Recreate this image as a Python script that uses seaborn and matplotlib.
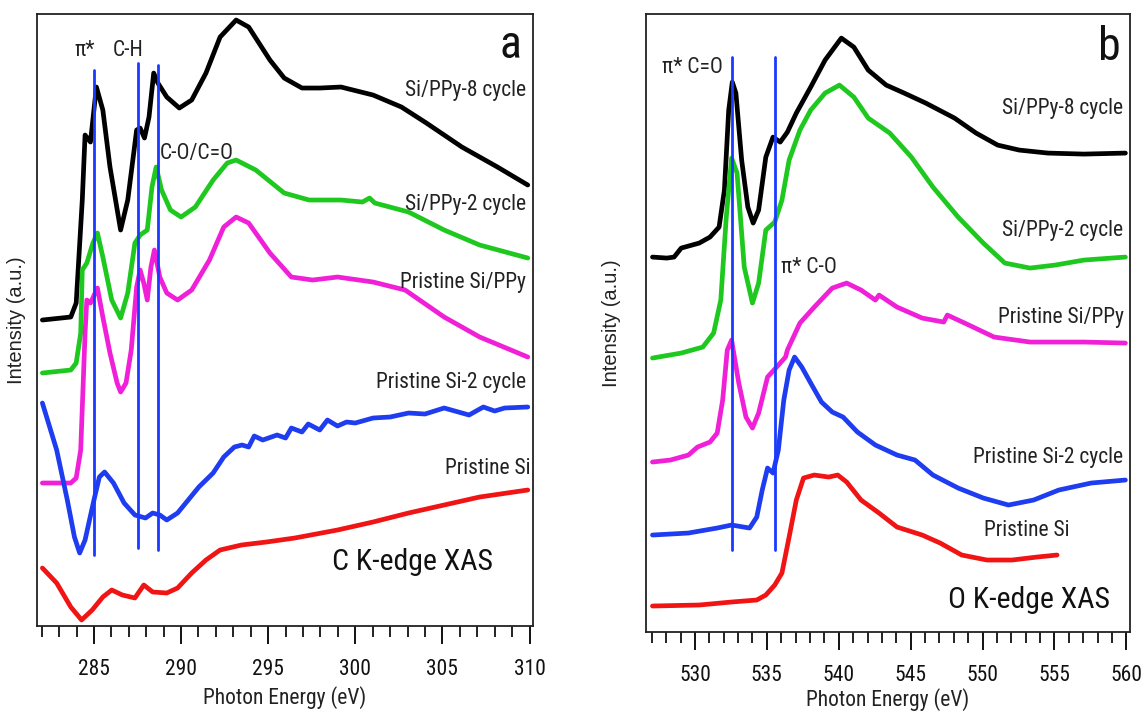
import numpy as np
import pandas as pd
import matplotlib
matplotlib.use("Agg")
import matplotlib.pyplot as plt
from matplotlib import font_manager as fm
import seaborn as sns

# ---------------- Panel a : C K-edge ----------------
a_black_x = [282.04, 283.67, 283.98, 284.33, 284.49, 284.80, 285.14, 285.51, 285.92, 286.53, 286.94, 287.45, 287.65,
             287.90, 288.16, 288.43, 288.67, 289.18, 289.90, 290.61, 291.43, 292.24, 293.16, 293.88, 295.10, 295.92,
             296.94, 297.96, 299.18, 301.02, 302.65, 304.08, 306.12, 308.16, 309.90]
a_black_y = [3.30, 3.33, 3.47, 4.50, 5.15, 5.08, 5.63, 5.40, 4.83, 4.20, 4.50, 5.20, 5.22,
             5.12, 5.33, 5.77, 5.67, 5.53, 5.42, 5.50, 5.77, 6.13, 6.30, 6.23, 5.90, 5.72,
             5.62, 5.62, 5.63, 5.55, 5.43, 5.27, 5.03, 4.83, 4.65]

a_green_x = [282.04, 283.67, 283.98, 284.24, 284.33, 284.59, 284.94, 285.20, 285.51, 286.02, 286.53, 286.94, 287.35,
             287.65, 288.06, 288.33, 288.57, 288.88, 289.39, 290.00, 290.82, 291.84, 292.65, 293.16, 294.29, 295.92,
             297.35, 299.18, 300.41, 300.82, 301.12, 303.06, 305.10, 307.14, 309.90]
a_green_y = [2.77, 2.80, 2.87, 3.17, 3.80, 3.87, 4.07, 4.17, 3.93, 3.50, 3.32, 3.57, 4.07,
             4.15, 4.20, 4.63, 4.83, 4.60, 4.40, 4.33, 4.43, 4.70, 4.87, 4.90, 4.80, 4.57,
             4.50, 4.50, 4.48, 4.52, 4.47, 4.38, 4.20, 4.05, 3.92]

a_magenta_x = [282.04, 283.67, 283.98, 284.24, 284.49, 284.59, 284.80, 285.20, 285.51, 285.92, 286.33, 286.53, 286.84,
               287.14, 287.45, 287.65, 287.86, 288.06, 288.27, 288.47, 288.78, 289.18, 289.80, 290.61, 291.63, 292.45,
               293.16, 293.88, 295.10, 296.33, 297.55, 298.98, 301.02, 302.86, 305.10, 307.14, 309.90]
a_magenta_y = [1.67, 1.67, 1.72, 2.00, 3.17, 3.50, 3.47, 3.62, 3.33, 2.97, 2.67, 2.58, 2.67,
               3.00, 3.63, 3.80, 3.67, 3.50, 3.83, 4.00, 3.73, 3.57, 3.50, 3.60, 3.90, 4.23,
               4.33, 4.27, 3.97, 3.73, 3.70, 3.73, 3.68, 3.60, 3.33, 3.13, 2.93]

a_blue_x = [282.04, 282.86, 283.47, 283.88, 284.18, 284.49, 285.00, 285.31, 285.61, 286.12, 286.73, 287.35, 287.96,
            288.37, 288.78, 289.18, 289.80, 290.41, 291.02, 291.84, 292.45, 293.06, 293.50, 293.88, 294.20, 294.69,
            295.51, 296.00, 296.33, 296.94, 297.30, 297.96, 298.40, 298.98, 299.50, 300.00, 301.02, 302.00,
            303.06, 304.00, 305.10, 306.53, 307.35, 308.00, 308.57, 309.90]
a_blue_y = [2.47, 2.00, 1.50, 1.13, 0.97, 1.10, 1.50, 1.73, 1.78, 1.67, 1.47, 1.35, 1.32,
            1.37, 1.35, 1.30, 1.37, 1.50, 1.63, 1.77, 1.93, 2.03, 2.05, 2.03, 2.14, 2.10,
            2.15, 2.12, 2.22, 2.18, 2.26, 2.20, 2.30, 2.24, 2.28, 2.27, 2.32, 2.33,
            2.37, 2.36, 2.42, 2.35, 2.43, 2.39, 2.42, 2.43]

a_red_x = [282.04, 282.86, 283.67, 284.29, 284.90, 285.51, 286.02, 286.63, 287.35, 287.86, 288.37, 289.18, 289.80,
           290.61, 291.43, 292.24, 293.47, 294.90, 296.53, 298.98, 301.02, 303.06, 305.10, 307.14, 309.90]
a_red_y = [0.82, 0.67, 0.43, 0.30, 0.40, 0.53, 0.60, 0.55, 0.52, 0.65, 0.58, 0.57, 0.62,
           0.77, 0.90, 1.00, 1.05, 1.08, 1.12, 1.20, 1.28, 1.37, 1.45, 1.53, 1.60]

a_series = ["Si/PPy-8 cycle", "Si/PPy-2 cycle", "Pristine Si/PPy", "Pristine Si-2 cycle", "Pristine Si"]
a_label_y = [5.60, 4.46, 3.68, 2.68, 1.82]
a_lines_x = [285.0, 287.51, 288.67]
a_lines_top = [5.80, 5.87, 5.85]
a_lines_bottom = [0.95, 1.02, 1.00]
a_peak_labels = ["π*", "C-H", "C-O/C=O"]
a_peak_x = [284.45, 286.94, 290.9]
a_peak_y = [6.00, 6.00, 4.97]

# ---------------- Panel b : O K-edge ----------------
b_black_x = [527.05, 528.05, 528.55, 529.05, 530.30, 531.05, 531.68, 532.05, 532.35, 532.60, 532.85, 533.25, 533.68,
             534.05, 534.43, 534.93, 535.43, 535.93, 536.43, 537.05, 538.05, 539.05, 540.18, 541.05, 542.05, 543.30,
             544.55, 546.05, 548.05, 549.55, 551.05, 552.55, 554.55, 557.05, 559.93]
b_black_y = [3.93, 3.92, 3.93, 4.02, 4.07, 4.13, 4.23, 4.60, 5.40, 5.68, 5.57, 4.90, 4.43,
             4.27, 4.40, 4.93, 5.13, 5.08, 5.18, 5.37, 5.63, 5.90, 6.12, 6.03, 5.80, 5.65,
             5.57, 5.47, 5.32, 5.17, 5.05, 5.00, 4.97, 4.96, 4.97]

b_green_x = [527.05, 529.05, 530.55, 531.30, 531.80, 532.18, 532.55, 532.93, 533.43, 534.00, 534.43, 534.93, 535.55,
             536.05, 536.55, 537.30, 538.05, 539.05, 540.05, 541.05, 542.05, 543.55, 545.05, 546.55, 548.30, 550.05,
             551.55, 553.30, 555.05, 557.05, 559.93]
b_green_y = [2.92, 2.97, 3.03, 3.17, 3.50, 4.33, 4.92, 4.77, 3.83, 3.47, 3.67, 4.20, 4.28,
             4.50, 4.90, 5.20, 5.40, 5.57, 5.65, 5.53, 5.32, 5.17, 4.93, 4.63, 4.33, 4.07,
             3.87, 3.82, 3.85, 3.90, 3.93]

b_magenta_x = [527.05, 528.30, 529.55, 530.18, 531.05, 531.55, 531.93, 532.25, 532.55, 533.05, 533.55, 534.00, 534.43,
               535.05, 535.68, 536.30, 536.43, 537.30, 538.30, 539.55, 540.55, 541.55, 542.55, 542.80, 544.05, 545.80,
               547.30, 547.55, 549.05, 550.80, 553.30, 557.05, 559.93]
b_magenta_y = [1.88, 1.90, 1.95, 2.03, 2.08, 2.17, 2.50, 3.00, 3.10, 2.67, 2.33, 2.22, 2.37,
               2.73, 2.83, 2.93, 3.00, 3.27, 3.43, 3.62, 3.67, 3.60, 3.50, 3.55, 3.43, 3.32,
               3.28, 3.35, 3.25, 3.13, 3.08, 3.08, 3.07]

b_blue_x = [527.05, 529.55, 531.55, 532.55, 533.80, 534.30, 534.68, 535.05, 535.43, 535.80, 536.18, 536.55, 536.93,
            537.43, 538.05, 538.80, 539.55, 540.30, 541.30, 542.55, 544.05, 545.30, 546.55, 548.30, 550.05, 551.80,
            553.55, 555.30, 557.55, 559.93]
b_blue_y = [1.15, 1.17, 1.22, 1.25, 1.22, 1.33, 1.60, 1.82, 1.77, 2.00, 2.50, 2.80, 2.93,
            2.83, 2.67, 2.48, 2.38, 2.33, 2.18, 2.05, 1.95, 1.90, 1.75, 1.62, 1.52, 1.45,
            1.50, 1.60, 1.67, 1.70]

b_red_x = [527.05, 530.30, 532.55, 534.30, 534.93, 535.55, 536.05, 536.55, 537.05, 537.55, 538.30, 539.30, 539.93,
           540.55, 541.55, 542.80, 544.05, 545.80, 547.05, 548.55, 550.30, 552.05, 553.80, 555.18]
b_red_y = [0.44, 0.45, 0.48, 0.50, 0.55, 0.65, 0.77, 1.13, 1.50, 1.72, 1.75, 1.73, 1.75,
           1.68, 1.50, 1.37, 1.23, 1.15, 1.07, 0.95, 0.90, 0.90, 0.93, 0.95]

b_series = ["Si/PPy-8 cycle", "Si/PPy-2 cycle", "Pristine Si/PPy", "Pristine Si-2 cycle", "Pristine Si"]
b_label_y = [5.42, 4.20, 3.33, 1.93, 1.20]
b_lines_x = [532.6, 535.55]
b_lines_top = [5.93, 5.93]
b_lines_bottom = [1.00, 1.00]
b_peak_labels = ["π* C=O", "π* C-O"]
b_peak_x = [529.8, 537.9]
b_peak_y = [5.83, 3.83]

colors = ["#000000", "#1ec81e", "#f020d8", "#1e3cf0", "#f01414"]
vline_color = "#1a3aff"

sns.set_theme(style="white")
plt.rcParams['font.family'] = ['Liberation Sans', 'DejaVu Sans']

# pick a narrow sans font if one is installed (the reference text is condensed)
narrow_file = None
_pref = ["Liberation Sans Narrow", "Arial Narrow", "Roboto Condensed", "Open Sans Condensed"]
_entries = fm.fontManager.ttflist
for want in _pref:
    for f in _entries:
        if f.name == want and f.style == "normal" and f.weight in (400, "normal", "regular"):
            narrow_file = f.fname
            break
    if narrow_file:
        break
if narrow_file is None:
    for f in _entries:
        if f.name in ("Liberation Sans", "Roboto", "Open Sans") and f.stretch in ("condensed", "semi-condensed") \
                and f.style == "normal":
            narrow_file = f.fname
            break

if narrow_file:
    def NF(size):
        return fm.FontProperties(fname=narrow_file, size=size)
    SC = 1.0
else:
    def NF(size):
        return fm.FontProperties(family=['Liberation Sans', 'DejaVu Sans'], size=size)
    SC = 0.86

fig = plt.figure(figsize=(11.45, 7.16), dpi=100)
axa = fig.add_axes([0.0323, 0.1257, 0.4332, 0.8547])
axb = fig.add_axes([0.5642, 0.1173, 0.4227, 0.863])


def draw_panel(ax, xs, ys, names):
    frames = []
    for x, y, n in zip(xs, ys, names):
        frames.append(pd.DataFrame({"E": x, "I": y, "sample": n}))
    df = pd.concat(frames, ignore_index=True)
    sns.lineplot(data=df, x="E", y="I", hue="sample", hue_order=names,
                 palette=colors, estimator=None, sort=False, lw=3.4,
                 legend=False, ax=ax)


draw_panel(axa, [a_black_x, a_green_x, a_magenta_x, a_blue_x, a_red_x],
           [a_black_y, a_green_y, a_magenta_y, a_blue_y, a_red_y], a_series)
draw_panel(axb, [b_black_x, b_green_x, b_magenta_x, b_blue_x, b_red_x],
           [b_black_y, b_green_y, b_magenta_y, b_blue_y, b_red_y], b_series)

for x, t, b in zip(a_lines_x, a_lines_top, a_lines_bottom):
    axa.plot([x, x], [b, t], color=vline_color, lw=2.0, zorder=5)
for x, t, b in zip(b_lines_x, b_lines_top, b_lines_bottom):
    axb.plot([x, x], [b, t], color=vline_color, lw=2.0, zorder=5)

tc = "#222222"
lab_fs = 15.5 * SC
for name, y in zip(a_series, a_label_y):
    xr = 310.05 if name == "Pristine Si" else 309.8
    axa.text(xr, y, name, ha="right", va="center", fontproperties=NF(lab_fs), color=tc)
for name, y in zip(b_series, b_label_y):
    if name == "Pristine Si":
        axb.text(553.05, y, name, ha="center", va="center", fontproperties=NF(lab_fs), color=tc)
    else:
        axb.text(559.8, y, name, ha="right", va="center", fontproperties=NF(lab_fs), color=tc)

for t, x, y in zip(a_peak_labels, a_peak_x, a_peak_y):
    axa.text(x, y, t, ha="center", va="center", fontproperties=NF(lab_fs), color=tc)
for t, x, y in zip(b_peak_labels, b_peak_x, b_peak_y):
    axb.text(x, y, t, ha="center", va="center", fontproperties=NF(lab_fs), color=tc)

axa.text(308.9, 6.05, "a", ha="center", va="center", fontproperties=NF(33 * SC), color="#111111")
axb.text(558.8, 6.03, "b", ha="center", va="center", fontproperties=NF(33 * SC), color="#111111")
axa.text(303.3, 0.88, "C K-edge XAS", ha="center", va="center", fontproperties=NF(21.5 * SC), color="#111111")
axb.text(553.2, 0.50, "O K-edge XAS", ha="center", va="center", fontproperties=NF(21.5 * SC), color="#111111")

for ax, xl, yl, majors, ypad, xpad in [(axa, (281.73, 310.2), (0.24, 6.36), np.arange(285, 311, 5), 8, 4),
                                       (axb, (526.6, 560.25), (0.18, 6.36), np.arange(530, 561, 5), 18, 1.5)]:
    ax.set_xlim(*xl)
    ax.set_ylim(*yl)
    ax.set_xticks(majors)
    ax.set_xticks(np.arange(np.ceil(xl[0]), xl[1] + 0.01, 1), minor=True)
    ax.set_yticks([])
    ax.tick_params(axis="x", which="major", direction="out", length=13, width=1.4,
                   pad=11, colors="#111111", bottom=True)
    ax.tick_params(axis="x", which="minor", direction="out", length=8, width=1.3,
                   bottom=True, colors="#111111")
    for lab in ax.get_xticklabels():
        lab.set_fontproperties(NF(15.5 * SC))
    ax.set_xlabel("Photon Energy (eV)", fontproperties=NF(15.5 * SC), labelpad=xpad, color=tc)
    ax.set_ylabel("Intensity (a.u.)", fontsize=14.5, labelpad=ypad, color=tc)
    for s in ax.spines.values():
        s.set_color("#222222")
        s.set_linewidth(1.3)
        s.set_visible(True)

fig.savefig("out.png", dpi=100)
